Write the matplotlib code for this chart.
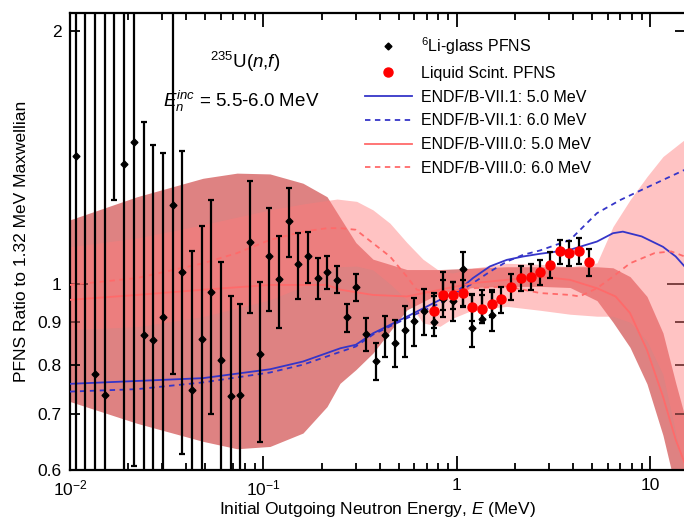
import numpy as np
import matplotlib
matplotlib.use('Agg')
import matplotlib.pyplot as plt
from matplotlib.lines import Line2D
from matplotlib.ticker import FixedLocator, FixedFormatter, NullFormatter

plt.rcParams['font.family'] = 'Liberation Sans'
plt.rcParams['mathtext.fontset'] = 'custom'
plt.rcParams['mathtext.rm'] = 'Liberation Sans'
plt.rcParams['mathtext.it'] = 'Liberation Sans:italic'

# 6Li-glass PFNS ratio (value, lower and upper end of error bar)
li_energy = [0.01072, 0.01202, 0.01349, 0.01514, 0.01698, 0.01905, 0.02138, 0.02399,
             0.02692, 0.03020, 0.03388, 0.03802, 0.04266, 0.04786, 0.05370, 0.06026,
             0.06761, 0.07586, 0.08511, 0.09550, 0.1072, 0.1202, 0.1349, 0.1514,
             0.1698, 0.1905, 0.2138, 0.2399, 0.2692, 0.3020, 0.3388, 0.3802,
             0.4266, 0.4786, 0.5370, 0.6026, 0.6761, 0.7586, 0.8511, 0.9550,
             1.072, 1.202, 1.349, 1.514]
li_ratio = [1.422, 2.40, 0.780, 0.738, 2.30, 1.389, 1.475, 0.868,
            0.857, 0.912, 1.240, 1.033, 0.747, 0.860, 0.978, 0.811,
            0.735, 0.738, 1.122, 0.824, 1.080, 1.013, 1.189, 1.056,
            1.079, 1.017, 1.032, 1.011, 0.912, 0.991, 0.871, 0.810,
            0.868, 0.851, 0.880, 0.903, 0.929, 0.900, 0.960, 0.953,
            1.041, 0.886, 0.908, 0.918]
li_low = [0.40, 0.40, 0.40, 0.40, 1.257, 0.40, 0.606, 0.40,
          0.40, 0.40, 0.780, 0.627, 0.40, 0.40, 0.700, 0.40,
          0.40, 0.40, 0.922, 0.647, 0.928, 0.886, 1.076, 0.960,
          1.003, 0.960, 0.986, 0.976, 0.877, 0.954, 0.831, 0.768,
          0.817, 0.795, 0.818, 0.844, 0.870, 0.866, 0.914, 0.902,
          0.940, 0.842, 0.897, 0.878]
li_high = [3.0, 4.0, 3.0, 3.0, 4.0, 3.0, 3.0, 1.558,
           1.463, 1.430, 3.0, 1.440, 1.093, 1.173, 1.259, 1.061,
           0.966, 0.945, 1.326, 1.004, 1.232, 1.141, 1.300, 1.150,
           1.153, 1.074, 1.078, 1.049, 0.945, 1.028, 0.910, 0.851,
           0.916, 0.906, 0.941, 0.963, 0.986, 0.975, 1.033, 1.005,
           1.090, 0.970, 0.983, 0.979]

# Liquid scintillator PFNS ratio
ls_energy = [0.7586, 0.8511, 0.9550, 1.072, 1.202, 1.349, 1.514, 1.698, 1.905,
             2.138, 2.399, 2.692, 3.020, 3.388, 3.802, 4.266, 4.786]
ls_ratio = [0.927, 0.971, 0.970, 0.974, 0.938, 0.934, 0.947, 0.958, 0.992,
            1.016, 1.020, 1.033, 1.053, 1.093, 1.088, 1.095, 1.061]
ls_err = [0.040, 0.040, 0.036, 0.036, 0.035, 0.035, 0.035, 0.034, 0.035,
          0.035, 0.036, 0.036, 0.037, 0.036, 0.037, 0.038, 0.040]

# evaluated spectra, ratio to Maxwellian
e71_5_energy = [0.01, 0.0222, 0.0487, 0.108, 0.160, 0.25, 0.3, 0.368, 0.551, 0.817,
                1.0, 1.21, 1.48, 1.81, 2.2, 2.69, 3.84, 5.29, 6.4, 7.2, 9.0, 11.6, 13.5, 15.0]
e71_5_ratio = [0.760, 0.766, 0.772, 0.791, 0.808, 0.838, 0.846, 0.873, 0.914, 0.957,
               0.979, 1.016, 1.049, 1.068, 1.078, 1.086, 1.098, 1.123, 1.149, 1.154,
               1.139, 1.107, 1.078, 1.049]
e71_6_energy = [0.01, 0.0222, 0.0487, 0.108, 0.160, 0.3, 0.368, 0.551, 0.817,
                1.21, 1.48, 1.81, 2.2, 2.69, 3.84, 4.5, 5.29, 7.0, 9.0, 15.0]
e71_6_ratio = [0.744, 0.749, 0.763, 0.784, 0.801, 0.842, 0.870, 0.910, 0.948,
               1.002, 1.034, 1.063, 1.083, 1.096, 1.128, 1.170, 1.214, 1.259, 1.294, 1.367]
e80_5_energy = [0.01, 0.0222, 0.0487, 0.108, 0.213, 0.25, 0.368, 0.551, 0.817,
                1.21, 1.81, 2.69, 3.84, 5.29, 6.6, 7.84, 9.59, 11.6, 13.5, 15.0]
e80_5_ratio = [0.957, 0.970, 0.984, 0.997, 0.997, 0.984, 0.970, 0.966, 0.984,
               1.002, 1.011, 1.020, 1.011, 0.988, 0.966, 0.923, 0.834, 0.734, 0.652, 0.612]
e80_6_energy = [0.01, 0.0222, 0.0487, 0.073, 0.108, 0.160, 0.213, 0.25, 0.30, 0.368,
                0.4505, 0.551, 0.62, 0.75, 1.21, 1.81, 2.69, 3.84, 4.3, 5.29, 6.4,
                7.84, 10.5, 12.8, 15.0]
e80_6_ratio = [0.997, 1.016, 1.058, 1.088, 1.128, 1.154, 1.165, 1.165, 1.160, 1.118,
               1.078, 1.020, 0.984, 0.975, 0.988, 0.993, 0.975, 0.970, 0.966, 0.988, 1.020,
               1.058, 1.088, 1.093, 1.078]

# uncertainty bands (lower and upper edges)
band_dark_energy = [0.01, 0.0222, 0.0487, 0.073, 0.108, 0.160, 0.213, 0.2485, 0.30, 0.368,
                    0.551, 0.817, 1.21, 1.81, 2.69, 3.84, 5.29, 6.40, 7.84, 9.59,
                    11.6, 13.5, 16.0]
band_dark_low = [0.724, 0.682, 0.649, 0.636, 0.640, 0.664, 0.714, 0.761, 0.790, 0.827,
                 0.931, 0.975, 0.990, 0.993, 0.993, 0.990, 0.955, 0.900, 0.840, 0.760,
                 0.660, 0.570, 0.500]
band_dark_high = [1.192, 1.270, 1.336, 1.355, 1.352, 1.318, 1.270, 1.200, 1.120, 1.070,
                  1.040, 1.040, 1.044, 1.048, 1.048, 1.048, 1.048, 1.045, 1.020, 0.966,
                  0.874, 0.762, 0.660]
band_light_energy = [0.01, 0.0222, 0.0487, 0.108, 0.160, 0.240, 0.303, 0.368, 0.4505,
                     0.551, 0.667, 0.817, 0.95, 1.21, 1.81, 2.69, 3.84, 5.29, 6.40,
                     7.84, 9.59, 11.6, 14.9, 16.0]
band_light_low = [0.882, 0.889, 0.914, 0.957, 0.993, 1.048, 1.050, 1.039, 1.000,
                  0.957, 0.898, 0.890, 0.910, 0.931, 0.940, 0.930, 0.920, 0.915, 0.915,
                  0.900, 0.855, 0.780, 0.600, 0.550]
band_light_high = [1.107, 1.134, 1.176, 1.225, 1.245, 1.262, 1.254, 1.225, 1.181,
                   1.120, 1.070, 1.035, 1.030, 1.044, 1.058, 1.055, 1.048, 1.059, 1.170,
                   1.259, 1.342, 1.418, 1.484, 1.500]

blue = '#3535C8'
red_line = '#FF6A6A'

fig = plt.figure(figsize=(6.84, 5.18), dpi=100)
ax = fig.add_axes([0.1023, 0.0927, 0.8985, 0.8813])

ax.fill_between(band_dark_energy, band_dark_low, band_dark_high,
                color='#DE8282', lw=0, zorder=1)
ax.fill_between(band_light_energy, band_light_low, band_light_high,
                color='#FF7A7A', alpha=0.45, lw=0, zorder=2)

ax.plot(e71_5_energy, e71_5_ratio, color=blue, lw=1.3, zorder=3)
ax.plot(e71_6_energy, e71_6_ratio, color=blue, lw=1.3, ls=(0, (3, 2.5)), zorder=3)
ax.plot(e80_5_energy, e80_5_ratio, color=red_line, lw=1.3, zorder=3)
ax.plot(e80_6_energy, e80_6_ratio, color=red_line, lw=1.3, ls=(0, (3, 2.5)), zorder=3)

li_r = np.array(li_ratio)
ax.errorbar(li_energy, li_ratio,
            yerr=[li_r - np.array(li_low), np.array(li_high) - li_r],
            fmt='D', ms=3.5, color='k', ecolor='k', elinewidth=1.6,
            capsize=2.5, capthick=1.6, zorder=4)
ax.errorbar(ls_energy, ls_ratio, yerr=ls_err,
            fmt='o', ms=6.5, mfc='#FF0000', mec='#FF0000', ecolor='k',
            elinewidth=1.6, capsize=2.5, capthick=1.6, zorder=5)

ax.set_xscale('log')
ax.set_yscale('log')
ax.set_xlim(0.01, 15)
ax.set_ylim(0.6, 2.1)

ax.xaxis.set_major_locator(FixedLocator([0.01, 0.1, 1, 10]))
ax.xaxis.set_major_formatter(FixedFormatter([r'$10^{-2}$', r'$10^{-1}$', '1', '10']))
ax.xaxis.set_minor_formatter(NullFormatter())
ax.yaxis.set_major_locator(FixedLocator([1]))
ax.yaxis.set_major_formatter(FixedFormatter(['1']))
ax.yaxis.set_minor_locator(FixedLocator([0.6, 0.7, 0.8, 0.9, 2]))
ax.yaxis.set_minor_formatter(FixedFormatter(['0.6', '0.7', '0.8', '0.9', '2']))

ax.tick_params(which='both', direction='in', top=True, right=True, width=1.3,
               labelsize=12.5)
ax.tick_params(axis='x', which='both', pad=6)
ax.tick_params(axis='y', which='both', pad=6)
ax.tick_params(axis='x', which='major', length=10)
ax.tick_params(axis='x', which='minor', length=5)
ax.tick_params(axis='y', which='major', length=13)
ax.tick_params(axis='y', which='minor', length=7)
for s in ax.spines.values():
    s.set_linewidth(1.6)
ax.spines['right'].set_visible(False)

ax.set_xlabel('Initial Outgoing Neutron Energy, $E$ (MeV)', fontsize=12.5, labelpad=1)
ax.set_ylabel('PFNS Ratio to 1.32 MeV Maxwellian', fontsize=12.5, labelpad=6)

ax.text(0.285, 0.893, r'$^{235}$U($n$,$f$)', transform=ax.transAxes,
        fontsize=13.5, ha='center', va='center')
ax.text(0.279, 0.808, r'$E_n^{inc}$ = 5.5-6.0 MeV', transform=ax.transAxes,
        fontsize=13.5, ha='center', va='center')

handles = [
    Line2D([], [], ls='none', marker='D', ms=3.5, color='k'),
    Line2D([], [], ls='none', marker='o', ms=6.5, color='#FF0000'),
    Line2D([], [], color=blue, lw=1.3),
    Line2D([], [], color=blue, lw=1.3, ls=(0, (3, 2.5))),
    Line2D([], [], color=red_line, lw=1.3),
    Line2D([], [], color=red_line, lw=1.3, ls=(0, (3, 2.5))),
]
labels = [r'$^{6}$Li-glass PFNS', 'Liquid Scint. PFNS', 'ENDF/B-VII.1: 5.0 MeV',
          'ENDF/B-VII.1: 6.0 MeV', 'ENDF/B-VIII.0: 5.0 MeV', 'ENDF/B-VIII.0: 6.0 MeV']
ax.legend(handles, labels, loc='upper left', bbox_to_anchor=(0.47, 0.966),
          frameon=False, fontsize=11.5, handlelength=2.9, handletextpad=0.6,
          labelspacing=0.55, borderaxespad=0)

fig.savefig('out.png', dpi=100)
